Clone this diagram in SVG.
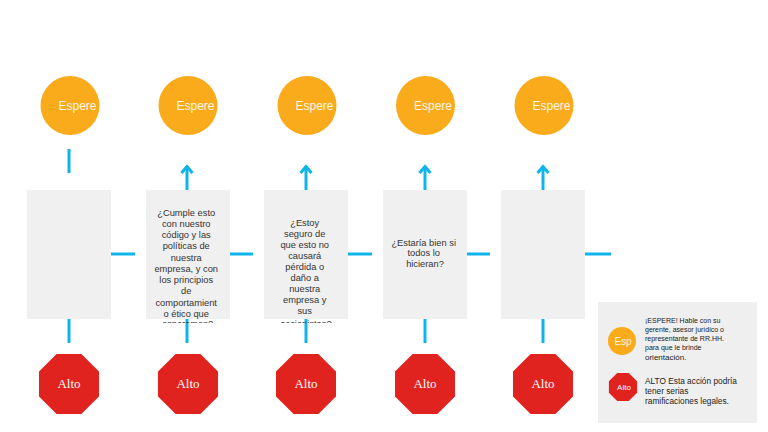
<svg xmlns="http://www.w3.org/2000/svg" width="768" height="432" viewBox="0 0 768 432">
  <style>
    .wait{fill:#F9AB1C}
    .stop{fill:#E0231E}
    .box{fill:#F0F0F0}
    .conn{stroke:#0FB5EA;stroke-width:3;fill:none}
    .wt{font-family:"Liberation Sans",Arial,sans-serif;font-size:12px;fill:#FFF6E6}
    .st{font-family:"Liberation Serif","Times New Roman",serif;font-size:13px;fill:#FFFFFF;text-anchor:middle}
    .bt{font-family:"Liberation Sans",Arial,sans-serif;font-size:9.3px;fill:#333333;text-anchor:middle}
    .lt{font-family:"Liberation Sans",Arial,sans-serif;font-size:7px;fill:#222222}
    .lt2{font-family:"Liberation Sans",Arial,sans-serif;font-size:8.3px;fill:#222222}
  </style>
  <defs>
    <polygon id="oct" points="-12.4,-30 12.4,-30 30,-12.4 30,12.4 12.4,30 -12.4,30 -30,12.4 -30,-12.4"/>
    <clipPath id="c2"><rect x="146" y="190" width="84" height="133"/></clipPath>
    <clipPath id="c3"><rect x="264" y="190" width="84" height="133"/></clipPath>
  </defs>
  <rect width="768" height="432" fill="#FFFFFF"/>

  <g id="connectors">
    <line class="conn" x1="69" y1="149" x2="69" y2="173"/>
    <line class="conn" x1="187" y1="190" x2="187" y2="166"/>
    <polyline class="conn" points="181.5,173 187,166.5 192.5,173"/>
    <line class="conn" x1="306" y1="190" x2="306" y2="166"/>
    <polyline class="conn" points="300.5,173 306,166.5 311.5,173"/>
    <line class="conn" x1="425" y1="190" x2="425" y2="166"/>
    <polyline class="conn" points="419.5,173 425,166.5 430.5,173"/>
    <line class="conn" x1="543" y1="190" x2="543" y2="166"/>
    <polyline class="conn" points="537.5,173 543,166.5 548.5,173"/>
    <line class="conn" x1="111" y1="254" x2="135" y2="254"/>
    <line class="conn" x1="229" y1="254" x2="253" y2="254"/>
    <line class="conn" x1="348" y1="254" x2="372" y2="254"/>
    <line class="conn" x1="466" y1="254" x2="490" y2="254"/>
    <line class="conn" x1="584" y1="254" x2="611" y2="254"/>
    <line class="conn" x1="69" y1="319" x2="69" y2="343"/>
    <line class="conn" x1="187" y1="319" x2="187" y2="343"/>
    <line class="conn" x1="306" y1="319" x2="306" y2="343"/>
    <line class="conn" x1="425" y1="319" x2="425" y2="343"/>
    <line class="conn" x1="543" y1="319" x2="543" y2="343"/>
  </g>

  <g id="wait1"><circle class="wait" cx="70" cy="105.5" r="29.5"/><text class="wt" x="58.5" y="109.5">Espere</text></g>
  <g id="wait2"><circle class="wait" cx="188" cy="105.5" r="29.5"/><text class="wt" x="176.5" y="109.5">Espere</text></g>
  <g id="wait3"><circle class="wait" cx="307" cy="105.5" r="29.5"/><text class="wt" x="295.5" y="109.5">Espere</text></g>
  <g id="wait4"><circle class="wait" cx="425.5" cy="105.5" r="29.5"/><text class="wt" x="414" y="109.5">Espere</text></g>
  <g id="wait5"><circle class="wait" cx="544" cy="105.5" r="29.5"/><text class="wt" x="532.5" y="109.5">Espere</text></g>

  <g id="box1"><rect class="box" x="27" y="190" width="84" height="129"/></g>
  <g id="box2">
    <rect class="box" x="146" y="190" width="84" height="129"/>
    <text class="bt" clip-path="url(#c2)">
      <tspan x="187.5" y="215.5">¿Cumple esto</tspan>
      <tspan x="187.5" y="226.8">con nuestro</tspan>
      <tspan x="187.5" y="238">código y las</tspan>
      <tspan x="187.5" y="249.3">políticas de</tspan>
      <tspan x="187.5" y="260.5">nuestra</tspan>
      <tspan x="187.5" y="271.8">empresa, y con</tspan>
      <tspan x="187.5" y="283">los principios</tspan>
      <tspan x="187.5" y="294.3">de</tspan>
      <tspan x="187.5" y="305.5">comportamient</tspan>
      <tspan x="187.5" y="316.8">o ético que</tspan>
      <tspan x="187.5" y="326.5">esperamos?</tspan>
    </text>
  </g>
  <g id="box3">
    <rect class="box" x="264" y="190" width="84" height="129"/>
    <text class="bt" clip-path="url(#c3)">
      <tspan x="306" y="225.5">¿Estoy</tspan>
      <tspan x="306" y="236.5">seguro de</tspan>
      <tspan x="306" y="247.5">que esto no</tspan>
      <tspan x="306" y="258.5">causará</tspan>
      <tspan x="306" y="269.5">pérdida o</tspan>
      <tspan x="306" y="280.5">daño a</tspan>
      <tspan x="306" y="291.5">nuestra</tspan>
      <tspan x="306" y="302.5">empresa y</tspan>
      <tspan x="306" y="313.5">sus</tspan>
      <tspan x="306" y="327">accionistas?</tspan>
    </text>
  </g>
  <g id="box4">
    <rect class="box" x="383" y="190" width="84" height="129"/>
    <text class="bt">
      <tspan x="425" y="245.5">¿Estaría bien si</tspan>
      <tspan x="425" y="256.3">todos lo</tspan>
      <tspan x="425" y="267">hicieran?</tspan>
    </text>
  </g>
  <g id="box5"><rect class="box" x="501" y="190" width="84" height="129"/></g>

  <g id="stop1"><use href="#oct" class="stop" transform="translate(69,384)"/><text class="st" x="69" y="388">Alto</text></g>
  <g id="stop2"><use href="#oct" class="stop" transform="translate(188,384)"/><text class="st" x="188" y="388">Alto</text></g>
  <g id="stop3"><use href="#oct" class="stop" transform="translate(306,384)"/><text class="st" x="306" y="388">Alto</text></g>
  <g id="stop4"><use href="#oct" class="stop" transform="translate(425,384)"/><text class="st" x="425" y="388">Alto</text></g>
  <g id="stop5"><use href="#oct" class="stop" transform="translate(543,384)"/><text class="st" x="543" y="388">Alto</text></g>

  <g id="legend">
    <rect x="598" y="302" width="159" height="121" fill="#EFEFEF"/>
    <circle class="wait" cx="622" cy="341" r="14"/>
    <text x="623" y="344.5" font-family="Liberation Sans, Arial, sans-serif" font-size="10" fill="#FFF6E6" text-anchor="middle">Esp</text>
    <text class="lt">
      <tspan x="645" y="323">¡ESPERE! Hable con su</tspan>
      <tspan x="645" y="332">gerente, asesor jurídico o</tspan>
      <tspan x="645" y="341">representante de RR.HH.</tspan>
      <tspan x="645" y="350">para que le brinde</tspan>
      <tspan x="645" y="359.5" font-size="8">orientación.</tspan>
    </text>
    <use href="#oct" class="stop" transform="translate(623,387) scale(0.47)"/>
    <text x="624" y="390" font-family="Liberation Sans, Arial, sans-serif" font-size="8" fill="#FFFFFF" text-anchor="middle">Alto</text>
    <text class="lt2">
      <tspan x="645" y="383.5">ALTO Esta acción podría</tspan>
      <tspan x="645" y="393.5"> tener serias</tspan>
      <tspan x="645" y="403.5">ramificaciones legales.</tspan>
    </text>
  </g>
</svg>
